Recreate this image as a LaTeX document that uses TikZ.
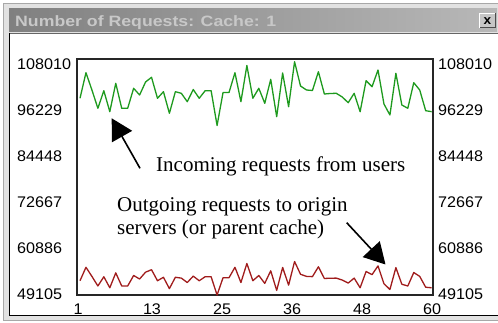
\documentclass[tikz,border=0pt]{standalone}
\usepackage{fontspec}
\setmainfont{Liberation Serif}
\newfontfamily\tickfont{Liberation Sans}[FakeStretch=1.05]
\newfontfamily\titlefont{Liberation Sans}[FakeStretch=1.18]
\usetikzlibrary{arrows.meta}
\definecolor{gline}{HTML}{1E9A1E}
\definecolor{rline}{HTML}{A01C1C}
\definecolor{winbg}{HTML}{E2E2E2}
\definecolor{winedge}{HTML}{A8A8A8}
\definecolor{barL}{HTML}{808080}
\definecolor{barR}{HTML}{B8B8B8}
\definecolor{titletxt}{HTML}{C8C8C8}
\definecolor{btn}{HTML}{C6C6C6}
\tikzset{
  ticklab/.style={inner sep=0pt, font=\tickfont\fontsize{15.4}{16}\selectfont},
  annot/.style={inner sep=0pt, anchor=base west, font=\fontsize{21}{22}\selectfont},
  annarrow/.style={line width=1.6pt, -{Triangle[length=21pt,width=23pt]}},
  series/.style={line width=1.3pt, line join=round},
  plotframe/.style={line width=1.5pt, black!85},
}
\def\gdata{98.3,72.7,90,108.3,90.7,111.7,83.3,108.3,108.3,88.3,95,82,77.3,98.3,91.7,113.3,91.7,93.3,101.7,89.5,98.3,90.7,90.7,125.5,92.5,92.5,72.7,101.7,65.5,98.3,88.3,103.3,79.3,116.7,73,106.7,61.7,86,90,90.5,71.7,94,93.5,93.3,97,102.7,93.3,111.7,80.7,86.7,70,104,115,73.3,105,108.3,82.7,90,110.7,111.7}
\begin{document}
\begin{tikzpicture}[x=1pt,y=-1pt]
\useasboundingbox (0,0) rectangle (498,323);
\fill[white] (0,0) rectangle (498,323);
% window frame
\draw[fill=winbg, draw=winedge, line width=1pt] (3,4) rectangle (505,320);
% title bar
\shade[left color=barL, right color=barR] (9,9) rectangle (497,32);
\node[inner sep=0pt, anchor=base west, text=titletxt,
      font=\titlefont\bfseries\fontsize{15}{16}\selectfont] (title) at (15,27) {Number of Requests: Cache: 1};
% close button
\node[minimum width=15pt, minimum height=14pt, inner sep=0pt, fill=btn] (close) at (487.5,20.5) {};
\draw[white, line width=1pt] (close.south west) -- (close.north west) -- (close.north east);
\draw[black!70, line width=1pt] (close.north east) -- (close.south east) -- (close.south west);
\node[inner sep=0pt, font=\tickfont\bfseries\fontsize{13}{13}\selectfont] at ([yshift=-1pt]close.center) {x};
% content panel
\fill[white] (9,33) rectangle (505,316);
\draw[black!60, line width=0.8pt] (9,33.4) -- (505,33.4);
\draw[black, line width=1.2pt] (9.6,33) -- (9.6,315.6) -- (505,315.6);
% plot frame
\draw[plotframe] (77,59) rectangle (433,295);
% tick labels left / right
\foreach \lab [count=\k from 0] in {108010,96229,84448,72667,60886,49105}{
  \node[ticklab, anchor=west] (yl\k) at (17,{63.8+46.05*\k}) {\lab};
  \node[ticklab, anchor=west] (yr\k) at (438,{63.8+46.05*\k}) {\lab};
}
% x tick labels
\foreach \lab/\xx in {1/78,13/152,25/222,36/292,48/362,60/432}{
  \node[ticklab] (xl\lab) at (\xx,309) {\lab};
}
% data coordinates
\foreach \v [count=\i] in \gdata {
  \coordinate (g\i) at ({80+5.96*(\i-1)},\v);
  \coordinate (r\i) at ({80+5.96*(\i-1)},{267.3+0.525*(\v-72.7)});
}
\draw[series, gline] (g1) \foreach \i in {2,...,60} { -- (g\i) };
\draw[series, rline] (r1) \foreach \i in {2,...,60} { -- (r\i) };
% annotations
\node[annot] (incoming) at (156,171.5) {Incoming requests from users};
\node[annot] (out1) at (117,211.7) {Outgoing requests to origin};
\node[annot] (out2) at (117,234.3) {servers (or parent cache)};
\coordinate (inTail) at (140,168.3);
\coordinate (inTip) at (111.7,118.3);
\coordinate (outTail) at (346.7,222.7);
\coordinate (outTip) at (385.5,264.5);
\draw[annarrow] (inTail) -- (inTip);
\draw[annarrow] (outTail) -- (outTip);
\end{tikzpicture}
\end{document}
